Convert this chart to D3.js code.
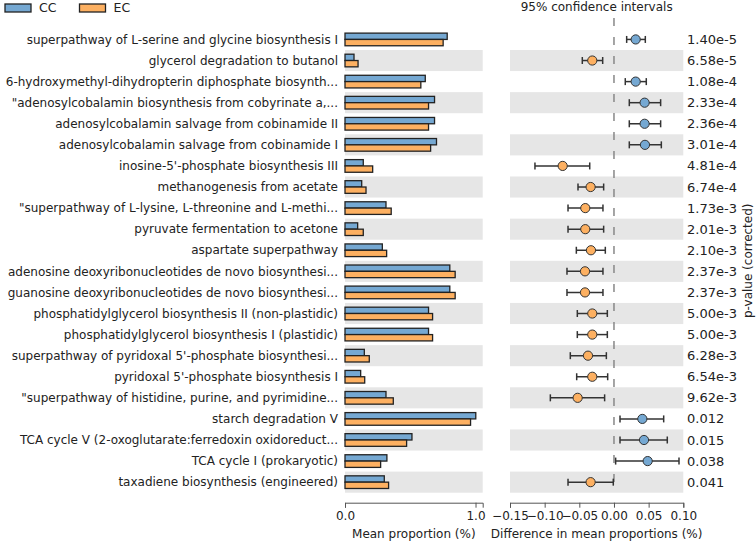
<!DOCTYPE html>
<html><head><meta charset="utf-8">
<script src="https://cdn.jsdelivr.net/npm/d3@7"></script>
<style>body{margin:0;background:#fff}svg{display:block;font-family:"DejaVu Sans",sans-serif}</style>
</head><body><svg id="c" width="756" height="543"></svg>
<script>
const pathways = [
 "superpathway of L-serine and glycine biosynthesis I",
 "glycerol degradation to butanol",
 "6-hydroxymethyl-dihydropterin diphosphate biosynth...",
 "\"adenosylcobalamin biosynthesis from cobyrinate a,...",
 "adenosylcobalamin salvage from cobinamide II",
 "adenosylcobalamin salvage from cobinamide I",
 "inosine-5'-phosphate biosynthesis III",
 "methanogenesis from acetate",
 "\"superpathway of L-lysine, L-threonine and L-methi...",
 "pyruvate fermentation to acetone",
 "aspartate superpathway",
 "adenosine deoxyribonucleotides de novo biosynthesi...",
 "guanosine deoxyribonucleotides de novo biosynthesi...",
 "phosphatidylglycerol biosynthesis II (non-plastidic)",
 "phosphatidylglycerol biosynthesis I (plastidic)",
 "superpathway of pyridoxal 5'-phosphate biosynthesi...",
 "pyridoxal 5'-phosphate biosynthesis I",
 "\"superpathway of histidine, purine, and pyrimidine...",
 "starch degradation V",
 "TCA cycle V (2-oxoglutarate:ferredoxin oxidoreduct...",
 "TCA cycle I (prokaryotic)",
 "taxadiene biosynthesis (engineered)"
];
const meanCC = [0.783,0.069,0.615,0.686,0.686,0.701,0.140,0.128,0.314,0.097,0.286,0.803,0.803,0.640,0.640,0.148,0.120,0.314,1.002,0.513,0.321,0.301];
const meanEC = [0.752,0.100,0.581,0.640,0.640,0.656,0.212,0.161,0.354,0.140,0.319,0.844,0.844,0.671,0.671,0.186,0.151,0.370,0.962,0.472,0.273,0.334];
const diff   = [0.0313,-0.0313,0.0313,0.0442,0.0442,0.0447,-0.074,-0.0337,-0.0414,-0.0414,-0.0332,-0.0418,-0.0418,-0.0313,-0.0313,-0.0375,-0.0313,-0.0524,0.0409,0.0433,0.0486,-0.0337];
const ciLow  = [0.0183,-0.0457,0.0163,0.0221,0.0221,0.0221,-0.114,-0.0519,-0.0663,-0.0663,-0.0543,-0.0678,-0.0678,-0.0529,-0.0529,-0.063,-0.0538,-0.0918,0.0087,0.0087,0.0024,-0.0663];
const ciHigh = [0.0452,-0.0163,0.0466,0.0673,0.0673,0.0683,-0.035,-0.0149,-0.0159,-0.0149,-0.0125,-0.0159,-0.0159,-0.0096,-0.0096,-0.011,-0.0091,-0.0135,0.0717,0.0769,0.0938,-0.001];
const pValues = ["1.40e-5","6.58e-5","1.08e-4","2.33e-4","2.36e-4","3.01e-4","4.81e-4","6.74e-4","1.73e-3","2.01e-3","2.10e-3","2.37e-3","2.37e-3","5.00e-3","5.00e-3","6.28e-3","6.54e-3","9.62e-3","0.012","0.015","0.038","0.041"];
const groups = ["CC","EC"];
const leftTicks = [0.0, 1.0];
const rightTicks = [-0.15,-0.10,-0.05,0.00,0.05,0.10];

const colors = {CC:"#75a8d2", EC:"#fdb061"};
const band = "#e6e6e6", ink = "#222";
const svg = d3.select("#c");

const y = d3.scaleBand().domain(d3.range(pathways.length)).range([28.9, 492.7]).paddingInner(0).paddingOuter(0);
const xL = d3.scaleLinear().domain([0, 1.055]).range([345, 482.7]);
const xR = d3.scaleLinear().domain([-0.15, 0.10]).range([510, 683.3]);
const bw = y.bandwidth();

// bands
const rows = d3.range(pathways.length);
svg.append("g").selectAll("rect").data(rows.filter(i=>i%2===1)).join("rect")
  .attr("x", xL(0)).attr("width", xL.range()[1]-xL(0)).attr("y", i=>y(i)).attr("height", bw).attr("fill", band);
svg.append("g").selectAll("rect").data(rows.filter(i=>i%2===1)).join("rect")
  .attr("x", xR.range()[0]).attr("width", xR.range()[1]-xR.range()[0]).attr("y", i=>y(i)).attr("height", bw).attr("fill", band);

// labels
svg.append("g").selectAll("text").data(rows).join("text")
  .attr("x", 338).attr("y", i=>y(i)+bw/2).attr("dy","0.35em").attr("text-anchor","end")
  .attr("font-size", 12).attr("fill", ink).text(i=>pathways[i]);

// bars
const bh = bw*0.3;
const gb = svg.append("g");
gb.selectAll("rect.cc").data(rows).join("rect").attr("class","cc")
  .attr("x", xL(0)).attr("y", i=>y(i)+bw/2-bh).attr("width", i=>xL(meanCC[i])-xL(0)).attr("height", bh)
  .attr("fill", colors.CC).attr("stroke", ink).attr("stroke-width", 1.3);
gb.selectAll("rect.ec").data(rows).join("rect").attr("class","ec")
  .attr("x", xL(0)).attr("y", i=>y(i)+bw/2).attr("width", i=>xL(meanEC[i])-xL(0)).attr("height", bh)
  .attr("fill", colors.EC).attr("stroke", ink).attr("stroke-width", 1.3);

// axes
const axisY = 502.7;
const aL = svg.append("g").attr("transform",`translate(0,${axisY})`)
  .call(d3.axisBottom(xL).tickValues(leftTicks).tickFormat(d3.format(".1f")).tickSizeOuter(0).tickSize(5));
const aR = svg.append("g").attr("transform",`translate(0,${axisY})`)
  .call(d3.axisBottom(xR).tickValues(rightTicks).tickFormat(d3.format(".2f")).tickSizeOuter(0).tickSize(5));
[aL,aR].forEach(a=>{
  a.select(".domain").attr("stroke","#555");
  a.selectAll(".tick line").attr("stroke","#555");
  a.selectAll(".tick text").attr("font-size",12).attr("fill",ink).attr("font-family","DejaVu Sans").attr("dy","0.75em");
});

// zero dashed line
svg.append("line").attr("x1", xR(0)).attr("x2", xR(0)).attr("y1", 18).attr("y2", 493)
  .attr("stroke","#888").attr("stroke-width",1.5).attr("stroke-dasharray","8,11");

// CI
const gc = svg.append("g");
gc.selectAll("line.ci").data(rows).join("line").attr("class","ci")
  .attr("x1", i=>xR(ciLow[i])).attr("x2", i=>xR(ciHigh[i])).attr("y1", i=>y(i)+bw/2).attr("y2", i=>y(i)+bw/2)
  .attr("stroke","#333").attr("stroke-width",1.5);
gc.selectAll("line.capl").data(rows).join("line").attr("class","capl")
  .attr("x1", i=>xR(ciLow[i])).attr("x2", i=>xR(ciLow[i])).attr("y1", i=>y(i)+bw/2-3.5).attr("y2", i=>y(i)+bw/2+3.5)
  .attr("stroke","#333").attr("stroke-width",1.5);
gc.selectAll("line.caph").data(rows).join("line").attr("class","caph")
  .attr("x1", i=>xR(ciHigh[i])).attr("x2", i=>xR(ciHigh[i])).attr("y1", i=>y(i)+bw/2-3.5).attr("y2", i=>y(i)+bw/2+3.5)
  .attr("stroke","#333").attr("stroke-width",1.5);
gc.selectAll("circle").data(rows).join("circle")
  .attr("cx", i=>xR(diff[i])).attr("cy", i=>y(i)+bw/2).attr("r", 4.6)
  .attr("fill", i=>diff[i]>0?colors.CC:colors.EC).attr("stroke","#333").attr("stroke-width",1);

// p-values
svg.append("g").selectAll("text").data(rows).join("text")
  .attr("x", 687).attr("y", i=>y(i)+bw/2).attr("dy","0.35em").attr("font-size",13).attr("fill",ink).text(i=>pValues[i]);

// titles
svg.append("text").attr("x",(xR.range()[0]+xR.range()[1])/2).attr("y",11).attr("text-anchor","middle")
  .attr("font-size",12).attr("fill",ink).text("95% confidence intervals");
svg.append("text").attr("x",(xL.range()[0]+xL.range()[1])/2).attr("y",538).attr("text-anchor","middle")
  .attr("font-size",12).attr("fill",ink).text("Mean proportion (%)");
svg.append("text").attr("x",(xR.range()[0]+xR.range()[1])/2).attr("y",538).attr("text-anchor","middle")
  .attr("font-size",12).attr("fill",ink).text("Difference in mean proportions (%)");
svg.append("text").attr("transform",`translate(752,${(y.range()[0]+y.range()[1])/2}) rotate(-90)`).attr("text-anchor","middle")
  .attr("font-size",12).attr("fill",ink).text("p-value (corrected)");

// legend
const lg = svg.append("g").selectAll("g").data(groups).join("g").attr("transform",(d,i)=>`translate(${5+i*74.5},4)`);
lg.append("rect").attr("width",26).attr("height",8).attr("fill",d=>colors[d]).attr("stroke",ink).attr("stroke-width",1.3);
lg.append("text").attr("x",34).attr("y",4).attr("dy","0.35em").attr("font-size",12.5).attr("fill",ink).text(d=>d);
</script></body></html>
